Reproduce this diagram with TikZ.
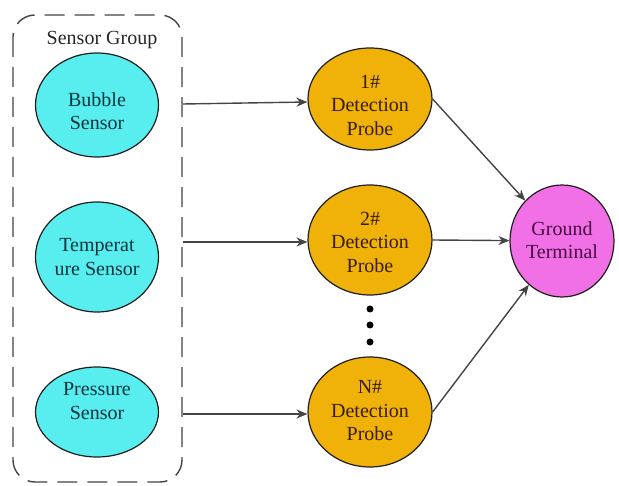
\documentclass[tikz,border=0pt]{standalone}
\usepackage{fontspec}
\setmainfont{Liberation Serif}
\usetikzlibrary{arrows.meta,shapes.geometric}
\definecolor{cyanfill}{RGB}{88,238,240}
\definecolor{orangefill}{RGB}{240,178,8}
\definecolor{pinkfill}{RGB}{242,112,230}
\definecolor{edgegray}{RGB}{68,68,68}
\definecolor{outline}{RGB}{30,30,30}
\definecolor{tealtext}{RGB}{10,50,60}
\definecolor{browntext}{RGB}{55,30,0}
\definecolor{purpletext}{RGB}{70,10,65}
\tikzset{
  base/.style={ellipse, draw=outline, line width=1.2pt, inner sep=0pt},
  sensor/.style={base, fill=cyanfill, minimum width=123pt, minimum height=104pt},
  probe/.style={base, fill=orangefill, minimum width=124pt, minimum height=106pt},
  ground/.style={base, fill=pinkfill, minimum width=104pt, minimum height=112pt},
  txt/.style={align=center, inner sep=0pt, font=\fontsize{20}{23.5}\selectfont},
  sensortxt/.style={txt, text=tealtext},
  probetxt/.style={txt, text=browntext},
  groundtxt/.style={txt, text=purpletext},
  conn/.style={draw=edgegray, line width=1.4pt, -{Stealth[length=11pt,width=9pt]}},
  dot/.style={circle, fill=black, inner sep=0pt, minimum size=7pt}
}
\begin{document}
\begin{tikzpicture}[x=1pt,y=-1pt]
\useasboundingbox (0,0) rectangle (619,486);
\draw[draw=edgegray, line width=1.4pt, dash pattern=on 20pt off 10pt, rounded corners=22pt] (13,15) rectangle (182,482);
\node[font=\fontsize{20}{23}\selectfont, text=black!85] (title) at (102,40) {Sensor Group};
\node[sensor] (bubble) at (97,105) {};
\node[sensor, minimum height=110pt] (temp) at (97,257) {};
\node[sensor, minimum height=90pt] (press) at (97,412) {};
\node[probe, minimum height=102pt] (p1) at (370,99) {};
\node[probe, minimum height=110pt] (p2) at (370,240) {};
\node[probe, minimum height=110pt] (pn) at (370,412) {};
\node[ground] (gt) at (562,241) {};
\node[sensortxt] (bubblet) at (97,111) {Bubble\\Sensor};
\node[sensortxt] (tempt) at (97,257) {Temperat\\ure Sensor};
\node[sensortxt] (presst) at (97,401) {Pressure\\Sensor};
\node[probetxt] (p1t) at (370,105) {1\#\\Detection\\Probe};
\node[probetxt] (p2t) at (370,242) {2\#\\Detection\\Probe};
\node[probetxt] (pnt) at (370,411) {N\#\\Detection\\Probe};
\node[groundtxt] (gtt) at (562,240) {Ground\\Terminal};
\node[dot] (d1) at (370,309) {};
\node[dot] (d2) at (370,325) {};
\node[dot] (d3) at (370,342) {};
\coordinate (s1) at (183,104);
\coordinate (s2) at (183,242);
\coordinate (s3) at (183,414);
\draw[conn] (s1) -- (p1.west |- 0,102);
\draw[conn] (s2) -- (p2.west |- s2);
\draw[conn] (s3) -- (pn.west |- s3);
\draw[conn] (p1.east) -- (gt);
\draw[conn] (p2.east) -- (gt);
\draw[conn] (pn.east) -- (gt);
\end{tikzpicture}
\end{document}
